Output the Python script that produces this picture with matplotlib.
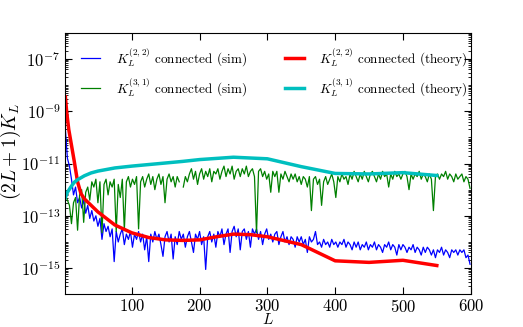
import matplotlib
matplotlib.use('Agg')
import matplotlib.pyplot as plt
import matplotlib.ticker as ticker
import numpy as np

plt.rcParams['font.family'] = 'serif'
plt.rcParams['font.serif'] = ['cmr10']
plt.rcParams['mathtext.fontset'] = 'cm'
plt.rcParams['axes.formatter.use_mathtext'] = True

# simulated spectra, log10 values read at L = 2, 5, 8, ..., 599
ell_sim = np.arange(2, 600, 3)

log_k22_sim = [
    -9.7, -10.8, -11.1, -11.6, -12.2, -11.9, -12.5, -12.3, -12.7, -12.4,
    -12.9, -12.6, -13.1, -12.8, -13.2, -13.0, -13.4, -13.1, -13.9, -13.3,
    -13.6, -13.4, -13.8, -13.5, -14.75, -13.6, -14.0, -13.7, -13.5, -14.1,
    -13.7, -13.9, -13.6, -14.2, -13.7, -13.9, -13.6, -14.0, -13.7, -14.3,
    -13.8, -14.75, -13.7, -14.0, -13.6, -13.9, -13.7, -14.1, -14.55, -13.8,
    -13.6, -14.0, -13.7, -14.65, -13.8, -14.1, -13.6, -13.9, -13.7, -14.2,
    -13.8, -13.6, -14.0, -14.4, -13.7, -13.9, -13.6, -14.1, -13.8, -15.05,
    -13.8, -13.6, -14.0, -13.7, -14.2, -13.6, -13.8, -13.5, -14.1, -13.7,
    -13.5, -14.4, -13.6, -13.4, -13.8, -13.5, -14.3, -13.6, -13.5, -13.9,
    -13.6, -14.2, -13.5, -13.7, -13.5, -13.9, -13.6, -14.1, -13.7, -13.5,
    -13.9, -13.7, -14.0, -13.7, -13.6, -14.1, -13.8, -13.6, -14.0, -13.8,
    -14.1, -13.8, -13.9, -14.2, -13.8, -14.0, -13.8, -14.1, -13.9, -14.4,
    -13.8, -14.0, -13.9, -13.6, -14.1, -14.0, -14.2, -13.9, -14.1, -14.0,
    -14.2, -13.9, -14.1, -14.0, -14.2, -14.0, -14.1, -13.9, -14.2, -14.0,
    -14.1, -14.3, -14.0, -14.2, -14.0, -14.3, -14.1, -14.2, -14.0, -14.3,
    -14.1, -14.2, -14.0, -14.3, -14.1, -14.2, -14.4, -14.1, -14.2, -14.0,
    -14.3, -14.1, -14.2, -14.5, -14.1, -14.3, -14.1, -14.2, -14.4, -14.2,
    -14.3, -14.1, -14.4, -14.2, -14.3, -14.5, -14.2, -14.4, -14.2, -14.3,
    -14.5, -14.3, -14.6, -14.3, -14.4, -14.2, -14.5, -14.3, -14.4, -14.6,
    -14.3, -14.4, -14.3, -14.5, -14.3, -14.4, -14.3, -14.6, -14.5, -14.85,
]

log_k31_sim = [
    -12.2, -12.4, -12.6, -13.3, -12.5, -12.3, -13.55, -12.2, -12.0, -13.25,
    -12.1, -11.9, -12.4, -11.7, -11.9, -11.6, -12.5, -11.7, -13.65, -11.8,
    -11.6, -12.2, -11.7, -11.9, -11.6, -13.6, -11.8, -12.3, -11.6, -13.55,
    -11.7, -11.5, -11.9, -11.6, -11.8, -11.5, -13.5, -11.7, -11.5, -11.9,
    -11.6, -11.4, -11.8, -11.5, -12.0, -11.6, -11.4, -11.8, -11.5, -12.5,
    -11.6, -11.4, -11.7, -11.5, -11.9, -11.5, -11.7, np.nan, -11.9, -11.5,
    -11.7, -11.4, -11.2, -11.6, -11.3, -11.8, -11.4, -11.2, -11.6, -11.3,
    -11.5, -11.2, -11.7, -11.3, -11.4, -11.2, -11.6, -11.3, -11.1, -11.5,
    -11.2, -11.4, -11.1, -11.6, -11.3, -11.2, -11.5, -11.2, -11.4, -11.1,
    -11.5, -11.3, -11.2, -11.5, -13.65, -11.3, -11.2, -11.5, -11.3, -11.6,
    -11.4, -12.1, -11.3, -11.5, -11.3, -12.1, -11.4, -11.6, -11.3, -11.5,
    -11.7, -11.4, -11.6, -11.4, -11.7, -11.5, -11.8, -11.5, -11.6, -11.9,
    -11.5, -12.8, -11.6, -11.5, -11.8, -11.6, -12.6, -11.7, -11.5, -11.8,
    -11.6, -11.4, -11.7, -12.3, -11.5, -11.7, -11.4, -11.6, -11.5, -11.8,
    -11.4, -11.6, -11.3, -11.5, -11.7, -11.4, -11.6, -11.3, -11.5, -11.7,
    -11.4, -11.3, -11.5, -11.7, -11.4, -11.6, -11.3, -11.5, -11.4, -11.9,
    -11.4, -11.6, -11.3, -11.5, -11.4, -11.6, -11.4, -11.3, -11.5, -12.0,
    -11.4, -11.6, -11.4, -11.5, -11.3, -11.6, -11.4, -11.5, -11.7, -11.4,
    -11.6, -12.8, -11.5, -11.4, -11.6, -11.4, -11.5, -11.3, -11.6, -11.4,
    -11.5, -11.7, -11.4, -11.6, -11.5, -11.4, -11.7, -11.5, -11.6, -11.95,
]

# theory curves
ell_k22_th = [2, 4, 7, 10, 15, 20, 25, 30, 40, 50, 60, 75, 100, 125, 150,
              175, 200, 225, 250, 275, 300, 350, 400, 450, 500, 550]
log_k22_th = [-8.45, -9.05, -9.7, -10.15, -10.9, -11.7, -12.15, -12.35,
              -12.6, -12.85, -13.05, -13.35, -13.65, -13.83, -13.92, -13.94,
              -13.92, -13.8, -13.7, -13.72, -13.8, -14.1, -14.72, -14.78,
              -14.7, -14.9]

ell_k31_th = [2, 5, 10, 15, 20, 30, 40, 50, 75, 100, 125, 150, 175, 200,
              250, 300, 350, 400, 450, 500, 550]
log_k31_th = [-12.3, -12.1, -11.9, -11.72, -11.62, -11.47, -11.36, -11.29,
              -11.17, -11.1, -11.04, -10.98, -10.92, -10.85, -10.76, -10.82,
              -11.12, -11.38, -11.4, -11.35, -11.46]

fig = plt.figure(figsize=(5.23, 3.27), dpi=100)
ax = fig.add_axes([0.125, 0.1, 0.775, 0.8])

ax.plot(ell_sim, 10.0 ** np.array(log_k22_sim), color='b', lw=0.9,
        label=r'$K_L^{(2,2)}$ connected (sim)')
ax.plot(ell_sim, 10.0 ** np.array(log_k31_sim), color='g', lw=0.9,
        label=r'$K_L^{(3,1)}$ connected (sim)')
ax.plot(ell_k22_th, 10.0 ** np.array(log_k22_th), color='r', lw=2.5,
        label=r'$K_L^{(2,2)}$ connected (theory)')
ax.plot(ell_k31_th, 10.0 ** np.array(log_k31_th), color='c', lw=2.5,
        label=r'$K_L^{(3,1)}$ connected (theory)')

ax.set_yscale('log')
ax.set_xlim(2, 600)
ax.set_ylim(1e-16, 1e-6)
ax.set_xticks([100, 200, 300, 400, 500, 600])
ax.set_yticks([1e-15, 1e-13, 1e-11, 1e-9, 1e-7])
ax.yaxis.set_minor_locator(ticker.LogLocator(base=10.0, subs=np.arange(1, 10), numticks=100))
ax.yaxis.set_minor_formatter(ticker.NullFormatter())
ax.tick_params(which='both', direction='in', top=True, right=True, labelsize=12)
ax.tick_params(axis='x', pad=3)
ax.tick_params(which='major', length=5)
ax.tick_params(which='minor', length=2.5)

ax.set_xlabel(r'$L$', fontsize=11, va='baseline')
ax.xaxis.set_label_coords(0.5, -0.114)
ax.set_ylabel(r'$(2L+1)K_L$', fontsize=14)
ax.yaxis.set_label_coords(-0.105, 0.545)

ax.legend(loc='upper left', bbox_to_anchor=(0.01, 0.995), ncol=2,
          frameon=False, fontsize=9.5, handlelength=1.45, handletextpad=1.15,
          columnspacing=2.9, labelspacing=0.6)

fig.savefig('out.png', dpi=100)
